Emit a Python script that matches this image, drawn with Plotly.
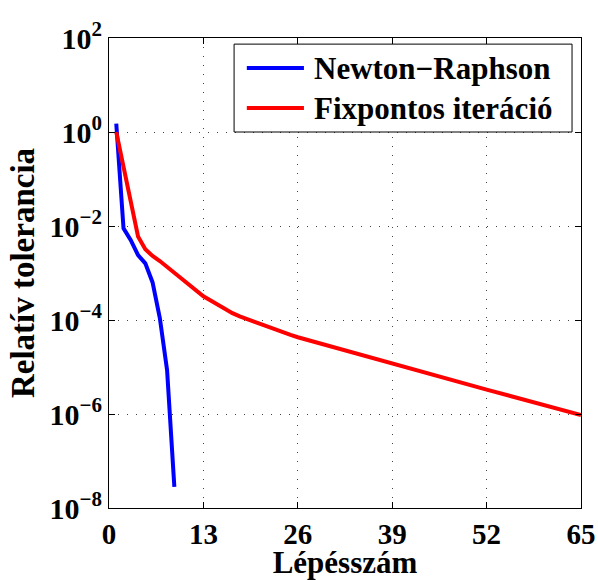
import plotly.graph_objects as go

# Convergence history of the two solvers
nr_steps = [1, 2, 3, 4, 5, 6, 7, 8, 9]
nr_tol = [1.5, 8.9e-3, 5.0e-3, 2.4e-3, 1.6e-3, 6.3e-4, 1.1e-4, 8.5e-6, 2.8e-8]

fp_steps = [1, 2, 3, 4, 5, 6, 7, 8, 9, 10, 11, 12, 13, 14, 15, 16, 17, 18, 19,
            20, 21, 22, 23, 24, 25, 26, 39, 52, 65]
fp_tol = [1.0, 0.19, 0.035, 6.0e-3, 3.2e-3, 2.3e-3, 1.8e-3, 1.35e-3, 1.0e-3,
          7.6e-4, 5.6e-4, 4.2e-4, 3.2e-4, 2.6e-4, 2.1e-4, 1.7e-4, 1.4e-4,
          1.2e-4, 1.05e-4, 9.1e-5, 7.9e-5, 6.9e-5, 6.0e-5, 5.4e-5, 4.8e-5,
          4.3e-5, 1.17e-5, 3.3e-6, 9.5e-7]

series_names = ["Newton\u2212Raphson", "Fixpontos iteráció"]
series_colors = ["#0000ff", "#ff0000"]

x_ticks = [0, 13, 26, 39, 52, 65]
y_ticks = [1e-8, 1e-6, 1e-4, 1e-2, 1e0, 1e2]
y_ticktext = ["10<sup>\u22128</sup>", "10<sup>\u22126</sup>", "10<sup>\u22124</sup>",
              "10<sup>\u22122</sup>", "10<sup>0</sup>", "10<sup>2</sup>"]

FONT = "Liberation Serif"

fig = go.Figure()
fig.add_trace(go.Scatter(x=nr_steps, y=nr_tol, mode="lines", name=series_names[0],
                         line=dict(color=series_colors[0], width=4)))
fig.add_trace(go.Scatter(x=fp_steps, y=fp_tol, mode="lines", name=series_names[1],
                         line=dict(color=series_colors[1], width=4)))

axis_common = dict(
    showline=True, linecolor="black", linewidth=1, mirror="ticks",
    ticks="inside", ticklen=6, tickcolor="black",
    showgrid=True, gridcolor="#444444", gridwidth=1, griddash="1px,8px",
    zeroline=False, automargin=False,
)

fig.update_xaxes(
    range=[0, 65], tickvals=x_ticks,
    tickfont=dict(family=FONT, size=29, color="black", weight="bold"),
    title=dict(text="Lépésszám", standoff=0,
               font=dict(family=FONT, size=31, color="black", weight="bold")),
    **axis_common,
)
fig.update_yaxes(
    type="log", range=[-8, 2], tickvals=y_ticks, ticktext=y_ticktext,
    tickfont=dict(family=FONT, size=30, color="black", weight="bold"),
    title=dict(text="Relatív tolerancia", standoff=4,
               font=dict(family=FONT, size=33, color="black", weight="bold")),
    **axis_common,
)

# Legend box drawn in paper coordinates
x_l, x_r = 0.265, 0.981
y_t, y_b = 0.987, 0.800
row_y = [0.936, 0.851]
shapes = [dict(type="rect", xref="paper", yref="paper", x0=x_l, x1=x_r, y0=y_b, y1=y_t,
               line=dict(color="black", width=1), fillcolor="white", layer="above")]
annotations = []
for name, color, ry in zip(series_names, series_colors, row_y):
    shapes.append(dict(type="line", xref="paper", yref="paper", x0=0.292, x1=0.413,
                       y0=ry, y1=ry, line=dict(color=color, width=4), layer="above"))
    annotations.append(dict(xref="paper", yref="paper", x=0.430, y=ry, text=name,
                            showarrow=False, xanchor="left", yanchor="middle",
                            font=dict(family=FONT, size=31, color="black", weight="bold")))

fig.update_layout(
    width=598, height=580,
    margin=dict(l=109, r=17, t=38, b=72),
    paper_bgcolor="white", plot_bgcolor="white",
    showlegend=False,
    shapes=shapes, annotations=annotations,
    font=dict(family=FONT, color="black"),
)

fig.write_html("out.html")
